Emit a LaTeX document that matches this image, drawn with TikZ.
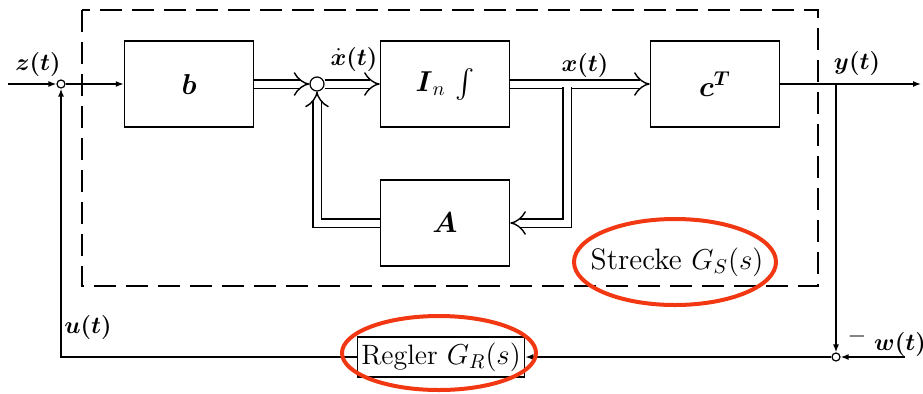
\documentclass[tikz,border=0pt]{standalone}
\usepackage{amsmath}
\usetikzlibrary{arrows.meta}
\definecolor{markred}{RGB}{242,56,18}
\begin{document}
\begin{tikzpicture}[x=0.5pt,y=-0.5pt,
  blk/.style={draw,line width=0.75pt,minimum width=64.5pt,minimum height=43pt,inner sep=0pt,font=\fontsize{14.5}{17}\selectfont},
  sig/.style={line width=0.7pt,-{Latex[length=4pt,width=3pt]}},
  plain/.style={line width=0.7pt},
  dbl/.style={double,line width=0.7pt,double distance=3.5pt,-{Implies}},
  sumpt/.style={draw,circle,line width=0.6pt,inner sep=0pt,fill=white},
  lbl/.style={font=\fontsize{12}{14}\selectfont,inner sep=1pt},
  redmark/.style={draw=markred,line width=2pt},
  txt/.style={font=\fontsize{14}{17}\selectfont}
]
\useasboundingbox (0,0) rectangle (923,393);
% dashed plant frame
\draw[line width=1pt,dash pattern=on 11pt off 5pt] (82,10) rectangle (818,286);
% blocks
\node[blk] (b) at (189,84) {$\boldsymbol{b}$};
\node[sumpt,minimum size=7pt] (s1) at (317,84) {};
\node[blk] (int) at (445,84) {$\boldsymbol{I}_n\,\textstyle\int$};
\node[blk] (c) at (715,84) {$\boldsymbol{c^T}$};
\node[blk] (A) at (445,223) {$\boldsymbol{A}$};
\node[sumpt,minimum size=4pt] (s0) at (61,84) {};
\node[sumpt,minimum size=4pt] (s2) at (836,357) {};
\node[draw,line width=0.6pt,inner sep=2pt,minimum height=20pt,txt] (reg) at (441,357) {Regler $G_R(s)$};
\node[txt,font=\fontsize{14.8}{17}\selectfont] (str) at (677,262) {Strecke $G_S(s)$};
% coordinates
\coordinate (zin) at (8,84);
\coordinate (br) at (567,87);
\coordinate (yb) at (836,84);
\coordinate (yout) at (921,84);
\coordinate (win) at (905,357);
% connectors
\draw[sig] (zin) -- (s0);
\draw[sig] (s0) -- (b);
\draw[dbl] (b) -- (s1);
\draw[dbl] (s1) -- (int);
\draw[dbl] (int) -- (c);
\draw[dbl] (br) |- (A.east);
\draw[dbl] (A.west) -| (s1);
\draw[sig] (c) -- (yout);
\draw[sig] (yb) -- (s2);
\draw[sig] (win) -- (s2);
\draw[sig] (s2) -- (reg);
\draw[sig] (reg) -| (s0);
% labels
\node[lbl] (lz) at (38,64) {$\boldsymbol{z(t)}$};
\node[lbl,inner sep=0pt] (lxd) at (354,59) {$\dot{\boldsymbol{x}}\boldsymbol{(t)}$};
\node[lbl] (lx) at (585,65) {$\boldsymbol{x(t)}$};
\node[lbl] (ly) at (857,63) {$\boldsymbol{y(t)}$};
\node[lbl] (lu) at (88,327) {$\boldsymbol{u(t)}$};
\node[lbl,inner sep=0pt] (lw) at (900,344) {$\boldsymbol{w(t)}$};
\node[lbl] (lm) at (857,336) {$-$};
% red markings
\draw[redmark] (675,262) ellipse [x radius=50.5pt,y radius=21.5pt];
\draw[redmark] (439,353) ellipse [x radius=48.5pt,y radius=18.5pt];
\end{tikzpicture}
\end{document}
